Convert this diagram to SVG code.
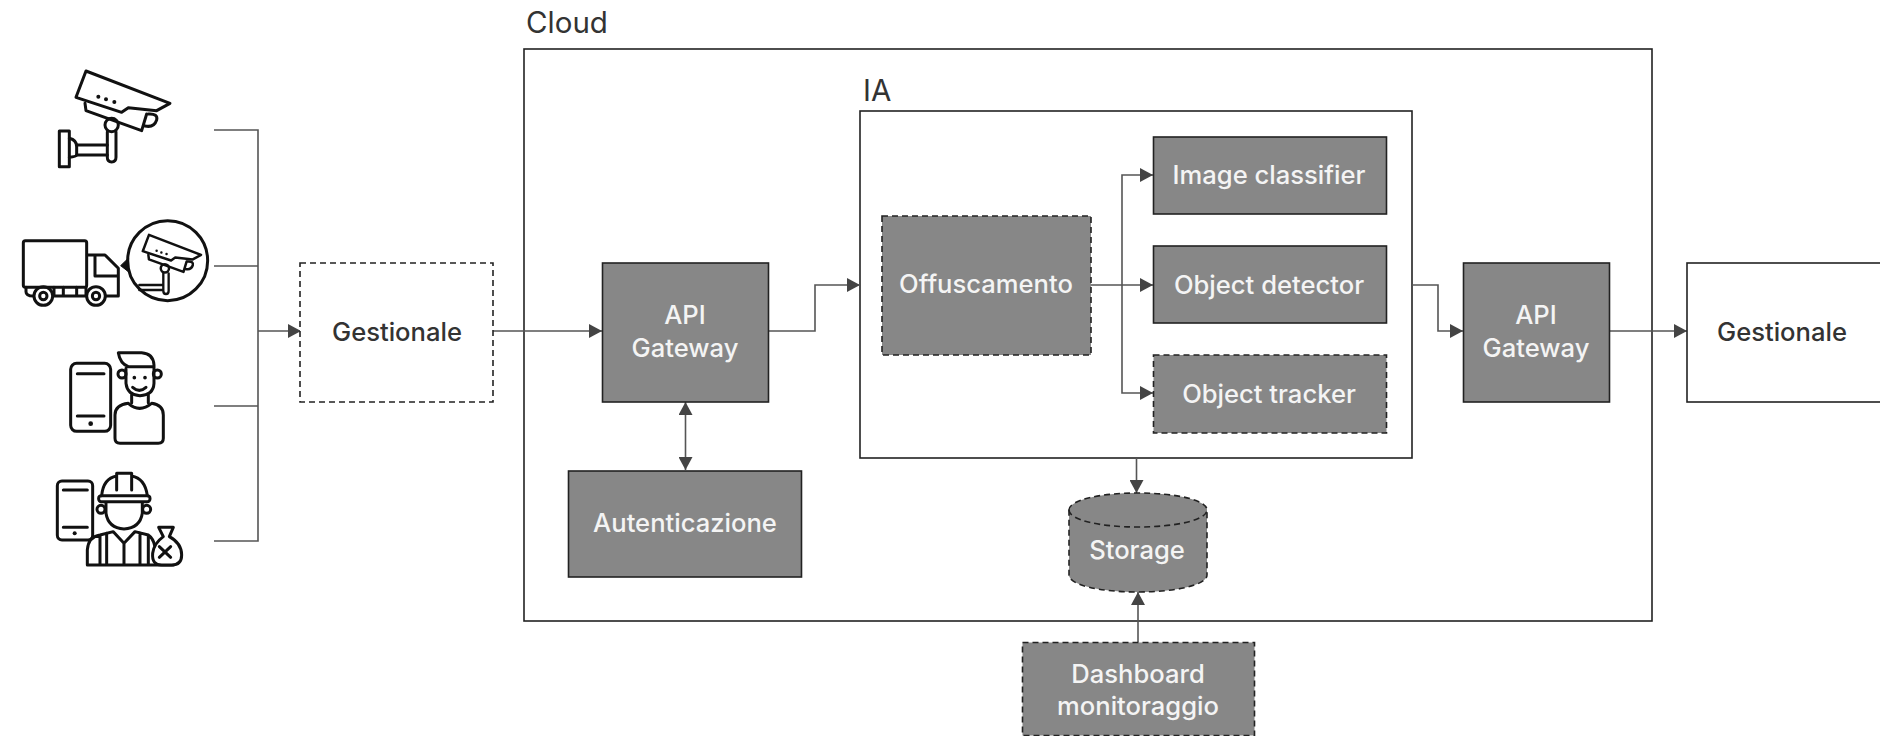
<svg xmlns="http://www.w3.org/2000/svg" width="1880" height="736" viewBox="0 0 1880 736">
<style>
text{font-family:"Inter","Noto Sans","Liberation Sans",sans-serif;font-size:25.6px;font-weight:500;text-anchor:middle}
.l{fill:#f4f4f4}.d{fill:#333;font-weight:450}
.t{font-size:29.500px;font-weight:400;text-anchor:start;fill:#333}
.b{fill:#878787;stroke:#222;stroke-width:1.6}
.bd{fill:#878787;stroke:#222;stroke-width:1.6;stroke-dasharray:6 4}
.w{fill:#fff;stroke:#222;stroke-width:1.6}
.wd{fill:#fff;stroke:#222;stroke-width:1.6;stroke-dasharray:6 4}
.c{fill:none;stroke:#555;stroke-width:1.6}
.i{fill:none;stroke:#111;stroke-width:9;stroke-linejoin:round;stroke-linecap:round}
</style>
<defs>
<marker id="a" viewBox="0 0 13 14" markerWidth="13" markerHeight="14" refX="13" refY="7" orient="auto" markerUnits="userSpaceOnUse"><path d="M0,0L13,7L0,14Z" fill="#444"/></marker>
<marker id="s" viewBox="0 0 13 14" markerWidth="13" markerHeight="14" refX="13" refY="7" orient="auto-start-reverse" markerUnits="userSpaceOnUse"><path d="M0,0L13,7L0,14Z" fill="#444"/></marker>
<g id="camhead">
<path d="M258,93L510,190L470,212L385,203L365,217L228,172Z"/>
<path d="M255,190L258,212L425,272L440,222"/>
<path d="M445,222Q475,220 470,240Q462,264 435,258"/>
<circle cx="335" cy="255" r="20"/>
<path d="M295,170h.1M318,178h.1M343,186h.1" stroke-width="12"/>
</g>
</defs>

<g id="icon-camera" class="i" transform="translate(0,40) scale(.3333)">
<use href="#camhead"/>
<path d="M322,275V352Q322,366 335,366Q348,366 348,352V275"/>
<path d="M322,315H230M322,345H230"/>
<rect x="178" y="273" width="30" height="107"/>
<path d="M208,295Q230,300 230,320V345Q228,350 208,352"/>
</g>

<g id="icon-truck" class="i" transform="translate(0,40) scale(.3333)">
<rect x="70" y="602" width="190" height="140" rx="6"/>
<path d="M262,645H315L355,685V768H318M285,648V708H350"/>
<path d="M78,742V755Q78,768 100,768M160,768H258M162,742V768M190,742V768M230,742V768M258,742V768"/>
<circle cx="130" cy="768" r="28"/><circle cx="130" cy="768" r="11"/>
<circle cx="288" cy="768" r="28"/><circle cx="288" cy="768" r="11"/>
<circle cx="503" cy="662" r="120"/>
<path d="M385,655L362,677L385,695Z" fill="#111" stroke-width="3"/>
<g transform="translate(287,527) scale(.62)" stroke-width="12"><use href="#camhead"/></g>
<path d="M490,700V752Q490,762 498,762Q506,762 506,752V700M418,735H490M418,750H490" stroke-width="7"/>
</g>

<g id="icon-user" class="i" transform="translate(0,330) scale(.3333)">
<rect x="212" y="100" width="120" height="204" rx="18"/>
<path d="M232,131H312M232,258H312"/>
<path d="M272,281h.1" stroke-width="14"/>
<path d="M378,115V160Q382,195 420,197Q460,195 462,160V105Q460,70 425,68H355Q360,100 385,110H462"/>
<circle cx="366" cy="132" r="12"/><circle cx="472" cy="132" r="12"/>
<path d="M403,143h.1M435,143h.1" stroke-width="11"/>
<path d="M398,172Q418,190 438,172"/>
<path d="M395,195V218M445,195V218"/>
<path d="M385,220Q418,250 455,220Q490,225 490,255V325Q490,340 475,340H360Q345,340 345,325V255Q345,225 385,220Z"/>
</g>

<g id="icon-worker" class="i" transform="translate(0,330) scale(.3333)">
<rect x="172" y="453" width="106" height="177" rx="14"/>
<path d="M190,480H262M190,592H262"/>
<path d="M224,610h.1" stroke-width="12"/>
<path d="M305,497Q310,445 350,438V430H395V438Q435,445 442,497M350,438V480M395,438V480"/>
<rect x="296" y="497" width="154" height="18" rx="8"/>
<path d="M318,520V550Q325,595 372,597Q420,595 427,550V520"/>
<circle cx="303" cy="538" r="12"/><circle cx="440" cy="538" r="12"/>
<path d="M262,705V660Q265,620 300,615L340,605L372,640L405,605L445,615Q460,625 465,650M262,705H520M300,618V705M320,610V705M372,640V705M420,608V705M445,615V705"/>
<path d="M476,592H520L508,620Q545,640 545,675Q545,705 515,705H485Q455,705 458,670Q462,640 490,620Z" fill="#fff"/>
<path d="M478,650L512,682M512,650L478,682"/>
</g>

<g id="cloud"><rect class="w" x="524" y="49" width="1128" height="572"/><text class="t" x="526" y="33">Cloud</text></g>
<g id="ia"><rect class="w" x="860" y="111" width="552" height="347"/><text class="t" x="863" y="101">IA</text></g>

<g id="connectors">
<path class="c" d="M214,130H258V541H214M214,266H258M214,406H258"/>
<path class="c" d="M258,331H301" marker-end="url(#a)"/>
<path class="c" d="M493,331H602" marker-end="url(#a)"/>
<path class="c" d="M768,331H815V285H860" marker-end="url(#a)"/>
<path class="c" d="M1091,285H1153" marker-end="url(#a)"/>
<path class="c" d="M1122,285V175H1153" marker-end="url(#a)"/>
<path class="c" d="M1122,285V393H1153" marker-end="url(#a)"/>
<path class="c" d="M1412,285H1438V331H1463" marker-end="url(#a)"/>
<path class="c" d="M1609,331H1687" marker-end="url(#a)"/>
<path class="c" d="M685.500,402V470" marker-start="url(#s)" marker-end="url(#s)"/>
<path class="c" d="M1136.500,458V493" marker-end="url(#a)"/>
<path class="c" d="M1138,642V592" marker-end="url(#a)"/>
</g>

<g id="gestionale-in"><rect class="wd" x="300" y="263" width="193" height="139"/><text class="d" x="397" y="341">Gestionale</text></g>
<g id="api-in"><rect class="b" x="602.500" y="263" width="166" height="139"/><text class="l" x="685" y="324">API</text><text class="l" x="685" y="357">Gateway</text></g>
<g id="auth"><rect class="b" x="568.500" y="471" width="233" height="106"/><text class="l" x="685" y="532">Autenticazione</text></g>
<g id="offuscamento"><rect class="bd" x="882" y="216" width="209" height="139"/><text class="l" x="986" y="293">Offuscamento</text></g>
<g id="classifier"><rect class="b" x="1153.500" y="137" width="233" height="77"/><text class="l" x="1269" y="184">Image classifier</text></g>
<g id="detector"><rect class="b" x="1153.500" y="246" width="233" height="77"/><text class="l" x="1269" y="294">Object detector</text></g>
<g id="tracker"><rect class="bd" x="1153.500" y="355" width="233" height="78"/><text class="l" x="1269" y="403">Object tracker</text></g>
<g id="api-out"><rect class="b" x="1463.500" y="263" width="146" height="139"/><text class="l" x="1536" y="324">API</text><text class="l" x="1536" y="357">Gateway</text></g>
<g id="gestionale-out"><rect class="w" x="1687" y="263" width="194" height="139"/><text class="d" x="1782" y="341">Gestionale</text></g>
<g id="storage"><path class="bd" d="M1069,510C1069,500 1100,493 1138,493C1176,493 1207,500 1207,510V575C1207,585 1176,592 1138,592C1100,592 1069,585 1069,575Z"/><path fill="none" stroke="#222" stroke-width="1.6" stroke-dasharray="6 4" d="M1069,510C1069,520 1100,527 1138,527C1176,527 1207,520 1207,510"/><text class="l" x="1137" y="559">Storage</text></g>
<g id="dashboard"><rect class="bd" x="1022.500" y="642.500" width="232" height="93"/><text class="l" x="1138" y="683">Dashboard</text><text class="l" x="1138" y="715">monitoraggio</text></g>
</svg>
